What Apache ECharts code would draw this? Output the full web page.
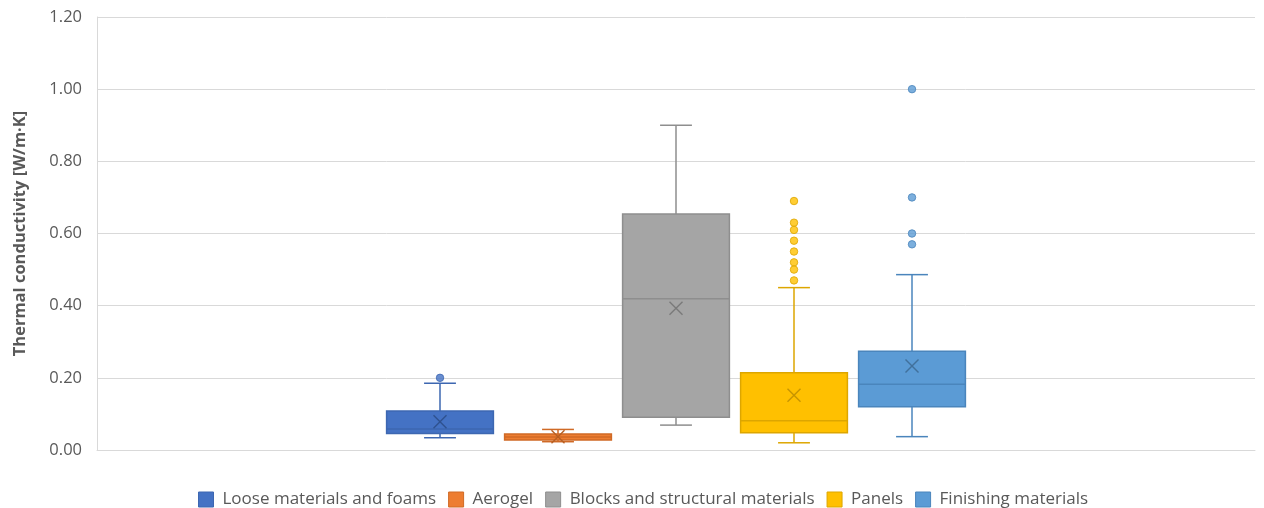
<!DOCTYPE html>
<html>
<head>
<meta charset="utf-8">
<script src="https://cdn.jsdelivr.net/npm/echarts@6/dist/echarts.min.js"></script>
<style>
  html, body { margin: 0; padding: 0; background: #ffffff; }
  #chart { width: 1264px; height: 508px; }
</style>
</head>
<body>
<div id="chart"></div>
<script>
// Thermal conductivity by material group (W/m·K)
const materials = [
  'Loose materials and foams',
  'Aerogel',
  'Blocks and structural materials',
  'Panels',
  'Finishing materials'
];
const whiskerLow  = [0.034, 0.023, 0.069, 0.020, 0.037];
const quartile1   = [0.046, 0.028, 0.091, 0.048, 0.120];
const medians     = [0.058, 0.036, 0.419, 0.081, 0.182];
const quartile3   = [0.108, 0.044, 0.654, 0.214, 0.274];
const whiskerHigh = [0.185, 0.057, 0.900, 0.450, 0.486];
const means       = [0.078, 0.037, 0.393, 0.152, 0.233];
const outliers = [
  [0.20],
  [],
  [],
  [0.69, 0.63, 0.61, 0.58, 0.55, 0.52, 0.50, 0.47],
  [1.00, 0.70, 0.60, 0.57]
];
const yTicks = [0, 0.2, 0.4, 0.6, 0.8, 1.0, 1.2];

// Fill, outline and mean-marker colours for each group
const palette = [
  { fill: '#4472C4', line: '#3D67B1', mark: '#2F528F' },
  { fill: '#ED7D31', line: '#D06A26', mark: '#B85F22' },
  { fill: '#A5A5A5', line: '#8E8E8E', mark: '#7A7A7A' },
  { fill: '#FFC000', line: '#DDA600', mark: '#C79500' },
  { fill: '#5B9BD5', line: '#4A85BC', mark: '#41719C' }
];

const FONT = '"Open Sans", sans-serif';
const TEXT = '#595959';
const GRID_LINE = '#d9d9d9';

function boxRenderer(style) {
  return function (params, api) {
    const x = api.value(0);
    const lo = api.coord([x, api.value(1)]);
    const q1 = api.coord([x, api.value(2)]);
    const md = api.coord([x, api.value(3)]);
    const q3 = api.coord([x, api.value(4)]);
    const hi = api.coord([x, api.value(5)]);
    const mn = api.coord([x, api.value(6)]);
    const band = api.size([1, 0])[0];
    const bw = band * 0.905;
    const cw = band * 0.27;
    const cx = lo[0];
    const r = 6.5;
    const lineStyle = { stroke: style.line, lineWidth: 1.5, fill: null };
    const seg = (x1, y1, x2, y2, st) => ({
      type: 'line', shape: { x1, y1, x2, y2 }, style: st || lineStyle
    });
    const markStyle = { stroke: style.mark, lineWidth: 1.4, fill: null };
    return {
      type: 'group',
      children: [
        seg(cx, hi[1], cx, q3[1]),
        seg(cx, q1[1], cx, lo[1]),
        seg(cx - cw / 2, hi[1], cx + cw / 2, hi[1]),
        seg(cx - cw / 2, lo[1], cx + cw / 2, lo[1]),
        {
          type: 'rect',
          shape: { x: cx - bw / 2, y: q3[1], width: bw, height: q1[1] - q3[1] },
          style: { fill: style.fill, stroke: style.line, lineWidth: 1.5 }
        },
        seg(cx - bw / 2, md[1], cx + bw / 2, md[1]),
        seg(cx - r, mn[1] - r, cx + r, mn[1] + r, markStyle),
        seg(cx - r, mn[1] + r, cx + r, mn[1] - r, markStyle)
      ]
    };
  };
}

const series = [];
materials.forEach((name, i) => {
  series.push({
    name: name,
    type: 'custom',
    xAxisIndex: 1,
    yAxisIndex: 1,
    itemStyle: { color: palette[i].fill },
    renderItem: boxRenderer(palette[i]),
    encode: { x: 0, y: [1, 2, 3, 4, 5, 6] },
    data: [[name, whiskerLow[i], quartile1[i], medians[i], quartile3[i], whiskerHigh[i], means[i]]],
    z: 2
  });
  series.push({
    name: name,
    type: 'scatter',
    xAxisIndex: 1,
    yAxisIndex: 1,
    symbol: 'circle',
    symbolSize: 7.5,
    itemStyle: { color: palette[i].fill, borderColor: palette[i].line, borderWidth: 1 },
    data: outliers[i].map(v => [name, v]),
    z: 3
  });
});

const chart = echarts.init(document.getElementById('chart'), null, { renderer: 'canvas' });
chart.setOption({
  animation: false,
  backgroundColor: '#ffffff',
  textStyle: { fontFamily: FONT },
  grid: [
    { left: 97, right: 9, top: 17, bottom: 58 },
    { left: 381, width: 590, top: 17, bottom: 58 }
  ],
  xAxis: [
    {
      gridIndex: 0, type: 'category', data: [''],
      axisLine: { show: true, lineStyle: { color: GRID_LINE, width: 1 } },
      axisTick: { show: false }, axisLabel: { show: false }, splitLine: { show: false }
    },
    { gridIndex: 1, type: 'category', data: materials, show: false }
  ],
  yAxis: [
    {
      gridIndex: 0, type: 'value',
      min: yTicks[0], max: yTicks[yTicks.length - 1], interval: 0.2,
      axisLine: { show: true, lineStyle: { color: GRID_LINE, width: 1 } },
      axisTick: { show: false },
      splitLine: { show: true, lineStyle: { color: GRID_LINE, width: 1 } },
      axisLabel: {
        margin: 15, fontSize: 16.5, color: TEXT, fontFamily: FONT,
        formatter: v => v.toFixed(2)
      },
      name: 'Thermal conductivity [W/m·K]',
      nameLocation: 'middle',
      nameGap: 68,
      nameTextStyle: { fontSize: 16.5, fontWeight: 'bold', color: TEXT, fontFamily: FONT }
    },
    {
      gridIndex: 1, type: 'value',
      min: yTicks[0], max: yTicks[yTicks.length - 1], interval: 0.2,
      show: false, splitLine: { show: false }
    }
  ],
  legend: {
    top: 486,
    left: 193,
    icon: 'rect',
    itemWidth: 15,
    itemHeight: 15,
    itemGap: 12,
    textStyle: { fontSize: 17, color: TEXT, fontFamily: FONT, padding: [0, 0, 0, 4] },
    data: materials.map((name, i) => ({
      name: name,
      icon: 'rect',
      itemStyle: { color: palette[i].fill, borderColor: palette[i].line, borderWidth: 1 }
    }))
  },
  series: series
});
</script>
</body>
</html>
